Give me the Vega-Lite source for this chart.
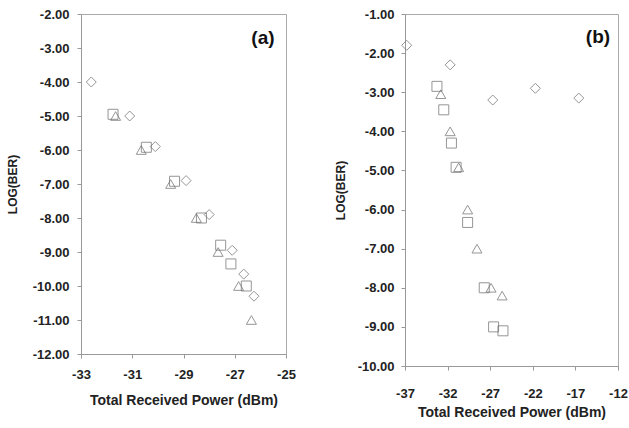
{
  "$schema": "https://vega.github.io/schema/vega-lite/v6.json",
  "padding": {"left": 5, "top": 7, "right": 2, "bottom": 5},
  "background": "white",
  "config": {
    "font": "Liberation Sans",
    "locale": {"number": {"decimal": ".", "thousands": ",", "grouping": [3], "currency": ["$", ""], "minus": "-"}},
    "view": {"stroke": "#aaaaaa", "strokeWidth": 1},
    "axis": {
      "grid": false,
      "labelFont": "Liberation Sans",
      "labelFontSize": 13,
      "labelFontWeight": "bold",
      "labelColor": "#222222",
      "labelOverlap": false,
      "labelFlush": false,
      "titleFont": "Liberation Sans",
      "titleFontWeight": "bold",
      "titleColor": "#222222",
      "domainColor": "#999999",
      "tickColor": "#999999",
      "tickSize": 4
    },
    "axisX": {"titleFontSize": 14},
    "axisY": {"titleFontSize": 12, "labelOverlap": false},
    "concat": {"spacing": 37}
  },
  "datasets": {
    "a": [
      {"series": "A", "power": -32.6, "logber": -4.0},
      {"series": "A", "power": -31.1, "logber": -5.0},
      {"series": "A", "power": -30.1, "logber": -5.9},
      {"series": "A", "power": -28.9, "logber": -6.9},
      {"series": "A", "power": -28.0, "logber": -7.9},
      {"series": "A", "power": -27.1, "logber": -8.95},
      {"series": "A", "power": -26.65, "logber": -9.65},
      {"series": "A", "power": -26.25, "logber": -10.3},
      {"series": "B", "power": -31.75, "logber": -4.95},
      {"series": "B", "power": -30.45, "logber": -5.92},
      {"series": "B", "power": -29.35, "logber": -6.92},
      {"series": "B", "power": -28.3, "logber": -8.0},
      {"series": "B", "power": -27.55, "logber": -8.8},
      {"series": "B", "power": -27.15, "logber": -9.35},
      {"series": "B", "power": -26.55, "logber": -10.0},
      {"series": "C", "power": -31.65, "logber": -5.0},
      {"series": "C", "power": -30.65, "logber": -6.0},
      {"series": "C", "power": -29.5, "logber": -7.0},
      {"series": "C", "power": -28.5, "logber": -8.0},
      {"series": "C", "power": -27.65, "logber": -9.0},
      {"series": "C", "power": -26.85, "logber": -10.0},
      {"series": "C", "power": -26.35, "logber": -11.0}
    ],
    "b": [
      {"series": "A", "power": -36.8, "logber": -1.8},
      {"series": "A", "power": -31.7, "logber": -2.3},
      {"series": "A", "power": -26.7, "logber": -3.2},
      {"series": "A", "power": -21.7, "logber": -2.9},
      {"series": "A", "power": -16.6, "logber": -3.15},
      {"series": "B", "power": -33.25, "logber": -2.85},
      {"series": "B", "power": -32.45, "logber": -3.45},
      {"series": "B", "power": -31.55, "logber": -4.3},
      {"series": "B", "power": -31.0, "logber": -4.92},
      {"series": "B", "power": -29.65, "logber": -6.33},
      {"series": "B", "power": -27.7, "logber": -8.0},
      {"series": "B", "power": -26.6, "logber": -9.0},
      {"series": "B", "power": -25.5, "logber": -9.1},
      {"series": "C", "power": -32.8, "logber": -3.05},
      {"series": "C", "power": -31.7, "logber": -4.0},
      {"series": "C", "power": -30.7, "logber": -4.92},
      {"series": "C", "power": -29.65, "logber": -6.0},
      {"series": "C", "power": -28.55, "logber": -7.0},
      {"series": "C", "power": -26.9, "logber": -8.0},
      {"series": "C", "power": -25.6, "logber": -8.2}
    ],
    "lab_a": [{"label": "(a)", "power": -25.9, "logber": -2.7}],
    "lab_b": [{"label": "(b)", "power": -14.35, "logber": -1.59}]
  },
  "hconcat": [
    {
      "width": 205,
      "height": 340,
      "encoding": {
        "x": {"field": "power", "type": "quantitative",
          "scale": {"domain": [-33, -25], "nice": false, "zero": false},
          "axis": {"values": [-33, -31, -29, -27, -25], "labelOverlap": false, "title": "Total Received Power (dBm)", "labelPadding": 10, "titlePadding": 12}},
        "y": {"field": "logber", "type": "quantitative",
          "scale": {"domain": [-12, -2], "nice": false, "zero": false},
          "axis": {"values": [-12, -11, -10, -9, -8, -7, -6, -5, -4, -3, -2], "labelOverlap": false, "format": ".2f", "title": "LOG(BER)", "labelPadding": 8, "titlePadding": 13}}
      },
      "layer": [
        {
          "data": {"name": "a"},
          "mark": {"type": "point", "filled": false, "size": 100, "stroke": "#6a6a6a", "strokeWidth": 1},
          "encoding": {
            "shape": {"field": "series", "type": "nominal",
              "scale": {"domain": ["A", "B", "C"], "range": ["diamond", "square", "triangle-up"]},
              "legend": null}
          }
        },
        {
          "data": {"name": "lab_a"},
          "mark": {"type": "text", "fontSize": 19, "fontWeight": "bold", "color": "#111111"},
          "encoding": {"text": {"field": "label"}}
        }
      ]
    },
    {
      "width": 213,
      "height": 352,
      "encoding": {
        "x": {"field": "power", "type": "quantitative",
          "scale": {"domain": [-37, -12], "nice": false, "zero": false},
          "axis": {"values": [-37, -32, -27, -22, -17, -12], "labelOverlap": false, "title": "Total Received Power (dBm)", "labelPadding": 17, "titlePadding": 5}},
        "y": {"field": "logber", "type": "quantitative",
          "scale": {"domain": [-10, -1], "nice": false, "zero": false},
          "axis": {"values": [-10, -9, -8, -7, -6, -5, -4, -3, -2, -1], "labelOverlap": false, "format": ".2f", "title": "LOG(BER)", "labelPadding": 7, "titlePadding": 10}}
      },
      "layer": [
        {
          "data": {"name": "b"},
          "mark": {"type": "point", "filled": false, "size": 100, "stroke": "#6a6a6a", "strokeWidth": 1},
          "encoding": {
            "shape": {"field": "series", "type": "nominal",
              "scale": {"domain": ["A", "B", "C"], "range": ["diamond", "square", "triangle-up"]},
              "legend": null}
          }
        },
        {
          "data": {"name": "lab_b"},
          "mark": {"type": "text", "fontSize": 19, "fontWeight": "bold", "color": "#111111"},
          "encoding": {"text": {"field": "label"}}
        }
      ]
    }
  ]
}
